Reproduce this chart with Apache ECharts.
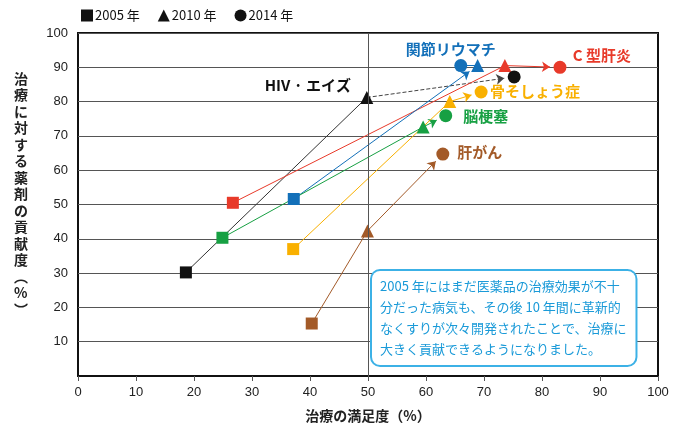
<!DOCTYPE html>
<html lang="ja">
<head>
    <meta charset="UTF-8">
    <title>治療の満足度と薬剤の貢献度</title>
    <script src="https://cdn.jsdelivr.net/npm/echarts@6/dist/echarts.min.js"></script>
    <style>
        *{
            margin: 0;
            padding: 0;
        }
        .container{
            width: 684px;
            height: 432px;
        }
    </style>
</head>
<body>
<div class="container"></div>
<script>
    // 疾患ごとの値 (x: 治療の満足度, y: 薬剤の貢献度)
    const diseases = ['HIV · エイズ', 'C 型肝炎', '関節リウマチ', '脳梗塞', '骨そしょう症', '肝がん'];
    const sat2005 = [18.6, 26.7, 37.2, 24.9, 37.1, 40.3];
    const con2005 = [30.2, 50.5, 51.6, 40.3, 37.0, 15.3];
    const sat2010 = [49.8, 73.6, 68.9, 59.5, 64.1, 49.9];
    const con2010 = [81.2, 90.5, 90.5, 72.6, 80.0, 42.3];
    const sat2014 = [75.2, 83.1, 66.0, 63.4, 69.5, 62.9];
    const con2014 = [87.2, 90.0, 90.5, 75.9, 82.8, 64.7];
    const years = ['2005 年', '2010 年', '2014 年'];

    const colors = ['#111111', '#e83a2a', '#1370b9', '#17a043', '#f9b000', '#a35a28'];
    // ラベルの位置 (2014 年の点から / HIV は 2010 年の点から)
    const labelOffset = [[-59, -12], [42, -12], [-10, -16], [40, 1], [54, -1], [37, -2]];
    const arrowFirst = [false, false, true, false, false, false];

    let main = document.querySelectorAll(".container");
    let mycharts = echarts.init(main[0]);

    const font = '"Noto Sans CJK JP", "Noto Sans", sans-serif';

    function pts(xs, ys, withLabel) {
        return xs.map((x, i) => {
            let item = {
                name: diseases[i],
                value: [x, ys[i]],
                itemStyle: {color: colors[i], opacity: 1}
            };
            if (withLabel && withLabel(i)) {
                item.label = {
                    show: true,
                    position: 'inside',
                    offset: labelOffset[i],
                    formatter: diseases[i],
                    color: colors[i],
                    fontSize: 15,
                    fontWeight: 'bold',
                    fontFamily: font
                };
            }
            return item;
        });
    }

    function segments(shorten) {
        let data = [];
        diseases.forEach((d, i) => {
            let a = [sat2005[i], con2005[i]];
            let b = [sat2010[i], con2010[i]];
            let c = [sat2014[i], con2014[i]];
            let black = i === 0;
            data.push({
                coords: [a, arrowFirst[i] ? shorten(a, b) : b],
                symbol: ['none', arrowFirst[i] ? 'arrow' : 'none'],
                lineStyle: {color: black ? '#333' : colors[i]}
            });
            data.push({
                coords: [b, arrowFirst[i] ? c : shorten(b, c)],
                symbol: ['none', arrowFirst[i] ? 'none' : 'arrow'],
                lineStyle: {color: black ? '#444' : colors[i], type: black ? 'dashed' : 'solid'}
            });
        });
        return data;
    }

    let Option = {
        backgroundColor: '#fff',
        textStyle: {fontFamily: font},
        legend: {
            left: 76,
            top: 4,
            itemWidth: 12,
            itemHeight: 12,
            itemGap: 18,
            data: years,
            textStyle: {fontSize: 13, color: '#111', padding: [0, 0, 0, -3]}
        },
        grid: {
            left: 78,
            right: 26,
            top: 33,
            bottom: 56,
            show: true,
            borderColor: '#111',
            borderWidth: 2
        },
        xAxis: {
            type: 'value',
            min: 0,
            max: 100,
            interval: 10,
            name: '治療の満足度（%）',
            nameLocation: 'middle',
            nameGap: 33,
            nameTextStyle: {fontSize: 14, fontWeight: 'bold', color: '#222'},
            axisLine: {show: true, lineStyle: {color: '#111', width: 2}},
            axisTick: {show: true, length: 5, lineStyle: {color: '#555'}},
            axisLabel: {fontSize: 13, color: '#222', margin: 10, fontFamily: 'Liberation Sans'},
            splitLine: {show: false}
        },
        yAxis: {
            type: 'value',
            min: 0,
            max: 100,
            interval: 10,
            axisLine: {show: false},
            axisTick: {show: false},
            axisLabel: {
                fontSize: 13, color: '#222', margin: 10, fontFamily: 'Liberation Sans',
                formatter: v => (v === 0 ? '' : v)
            },
            splitLine: {lineStyle: {color: '#555', width: 1}}
        },
        graphic: [
            {
                type: 'text',
                left: 14,
                top: 70,
                style: {
                    text: '治\n療\nに\n対\nす\nる\n薬\n剤\nの\n貢\n献\n度\n︵\n%\n︶',
                    font: 'bold 14px ' + font,
                    fill: '#222',
                    lineHeight: 16.5,
                    align: 'center'
                }
            },
            {
                type: 'text',
                left: 370,
                top: 269,
                z: 10,
                style: {
                    text: '2005 年にはまだ医薬品の治療効果が不十\n分だった病気も、その後 10 年間に革新的\nなくすりが次々開発されたことで、治療に\n大きく貢献できるようになりました。',
                    font: '13px ' + font,
                    fill: '#1a9ad8',
                    lineHeight: 21,
                    backgroundColor: '#fff',
                    borderColor: '#3cb1e6',
                    borderWidth: 2,
                    borderRadius: 8,
                    padding: [5, 9, 5, 8]
                }
            }
        ],
        series: [
            {
                type: 'lines',
                coordinateSystem: 'cartesian2d',
                silent: true,
                z: 2,
                symbolSize: 8,
                lineStyle: {width: 1, opacity: 1},
                data: segments((p, q) => q),
                markLine: {
                    silent: true,
                    symbol: 'none',
                    label: {show: false},
                    lineStyle: {color: '#555', width: 1, type: 'solid'},
                    data: [{xAxis: 50}]
                }
            },
            {
                name: years[0],
                type: 'scatter',
                symbol: 'rect',
                symbolSize: 12,
                z: 3,
                itemStyle: {color: '#111', opacity: 1},
                data: pts(sat2005, con2005)
            },
            {
                name: years[1],
                type: 'scatter',
                symbol: 'triangle',
                symbolSize: 13,
                z: 3,
                itemStyle: {color: '#111', opacity: 1},
                data: pts(sat2010, con2010, i => i === 0)
            },
            {
                name: years[2],
                type: 'scatter',
                symbol: 'circle',
                symbolSize: 13,
                z: 3,
                itemStyle: {color: '#111', opacity: 1},
                data: pts(sat2014, con2014, i => i !== 0)
            }
        ]
    };

    mycharts.setOption(Option);

    // 矢印が点の手前で止まるように、ピクセル上で終点を少し縮める
    function shortenPx(p, q) {
        let a = mycharts.convertToPixel({gridIndex: 0}, p);
        let b = mycharts.convertToPixel({gridIndex: 0}, q);
        let dx = b[0] - a[0], dy = b[1] - a[1];
        let len = Math.sqrt(dx * dx + dy * dy);
        let r = 10;
        let e = [b[0] - dx / len * r, b[1] - dy / len * r];
        return mycharts.convertFromPixel({gridIndex: 0}, e);
    }
    mycharts.setOption({series: [{data: segments(shortenPx)}]});
</script>
</body>
</html>
